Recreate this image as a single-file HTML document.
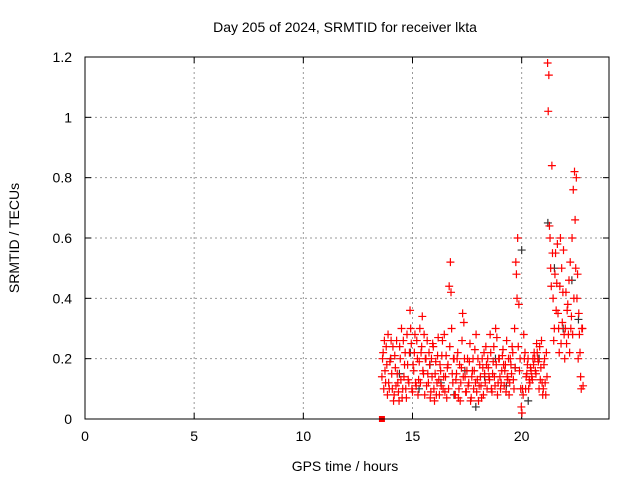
<!DOCTYPE html>
<html><head><meta charset="utf-8"><style>
body{margin:0;background:#fff;font-family:"Liberation Sans",sans-serif;}
svg text{font-family:"Liberation Sans",sans-serif;font-size:14px;fill:#000;}
</style></head><body>
<svg id="chart" width="640" height="480" xmlns="http://www.w3.org/2000/svg">
<rect width="640" height="480" fill="#fff"/>
<text x="345" y="32" text-anchor="middle">Day 205 of 2024, SRMTID for receiver lkta</text>
<text x="345" y="471" text-anchor="middle">GPS time / hours</text>
<text transform="translate(19,238) rotate(-90)" text-anchor="middle">SRMTID / TECUs</text>
<g id="grid"></g><g id="ticks"></g><g id="marks"></g>
<rect x="85" y="57" width="524" height="362" fill="none" stroke="#000" stroke-width="1"/>
</svg>
<script>
const xTicks=[0,5,10,15,20];
const yTicks=[0,0.2,0.4,0.6,0.8,1,1.2];
const yTickLabels=["0","0.2","0.4","0.6","0.8","1","1.2"];
const tStart=13.6, tStep=0.056;
const redA=[0.14,0.22,0.26,0.12,0.18,0.28,0.1,0.2,0.15,0.24,
0.08,0.17,0.26,0.12,0.06,0.2,0.3,0.1,0.14,0.22,
0.07,0.18,0.12,0.36,0.25,0.09,0.16,0.28,0.11,0.2,
0.13,0.3,0.22,0.34,0.15,0.08,0.2,0.26,0.12,0.18,
0.09,0.14,0.24,0.06,0.19,0.12,0.27,0.08,0.16,0.21,
0.1,0.28,0.14,0.07,0.18,0.44,0.52,0.3,0.12,0.2,
0.08,0.15,0.22,0.1,0.06,0.17,0.35,0.32,0.14,0.09,
0.2,0.12,0.25,0.07,0.16,0.1,0.23,0.28,0.13,0.06,
0.18,0.11,0.2,0.08,0.15,0.24,0.1,0.17,0.13,0.22,
0.09,0.19,0.14,0.3,0.27,0.12,0.2,0.1,0.16,0.23,
0.11,0.18,0.26,0.13,0.08,0.2,0.15,0.22,0.1,0.17,
0.48,0.6,0.38,0.2,0.04,0.1,0.28,0.22,0.14,0.18,
0.1,0.12,0.16,0.13,0.18,0.2,0.15,0.22,0.19,0.24,
0.17,0.12,0.1,0.2,0.08,0.14,1.02,0.64,0.5,0.84,
0.4,0.3,0.55,0.45,0.35,0.22,0.6,0.5,0.42,0.28,
0.3,0.25,0.38,0.46,0.52,0.34,0.28,0.4,0.66,0.8,
0.48,0.35,0.22,0.1,0.3];
const redB=[0.2,0.1,0.16,0.24,0.08,0.12,0.19,0.26,0.1,0.06,
0.21,0.11,0.15,0.09,0.24,0.13,0.07,0.26,0.18,0.1,
0.28,0.13,0.22,0.3,0.1,0.18,0.22,0.12,0.26,0.08,
0.19,0.12,0.24,0.16,0.28,0.2,0.11,0.15,0.22,0.07,
0.2,0.25,0.1,0.15,0.08,0.21,0.13,0.18,0.11,0.26,
0.14,0.09,0.21,0.17,0.1,0.24,0.42,0.15,0.2,0.08,
0.13,0.2,0.07,0.18,0.12,0.26,0.14,0.2,0.09,0.16,
0.11,0.19,0.06,0.14,0.2,0.16,0.12,0.09,0.2,0.11,
0.14,0.07,0.17,0.22,0.12,0.18,0.2,0.14,0.28,0.1,
0.15,0.24,0.11,0.18,0.08,0.2,0.14,0.12,0.21,0.18,
0.16,0.09,0.14,0.2,0.12,0.18,0.24,0.13,0.3,0.52,
0.4,0.24,0.16,0.1,0.02,0.08,0.2,0.1,0.15,0.2,
0.13,0.17,0.14,0.2,0.22,0.16,0.25,0.2,0.1,0.13,
0.26,0.08,0.18,0.12,0.22,1.18,1.14,0.6,0.44,0.55,
0.26,0.48,0.36,0.58,0.3,0.44,0.25,0.32,0.56,0.2,
0.42,0.36,0.28,0.22,0.3,0.6,0.76,0.82,0.5,0.4,
0.2,0.28,0.14,0.3,0.11];
const grayT=[14.0,14.4,14.9,15.3,15.8,16.3,16.9,17.4,17.9,18.3,18.8,19.3,19.7,20.0,20.3,20.8,21.2,21.5,21.9,22.3,22.6];
const grayV=[0.2,0.15,0.22,0.1,0.18,0.12,0.08,0.16,0.04,0.14,0.2,0.11,0.17,0.56,0.06,0.2,0.65,0.5,0.3,0.46,0.33];
const xMin=0,xMax=24,yMin=0,yMax=1.2,L=85,R=609,T=57,B=419;
const sx=v=>L+(v-xMin)/(xMax-xMin)*(R-L);
const sy=v=>B-(v-yMin)/(yMax-yMin)*(B-T);
const NS="http://www.w3.org/2000/svg";
const grid=document.getElementById('grid'),ticks=document.getElementById('ticks'),marks=document.getElementById('marks');
function mk(tag,parent,attrs){const e=document.createElementNS(NS,tag);for(const k in attrs)e.setAttribute(k,attrs[k]);parent.appendChild(e);return e;}
xTicks.forEach(v=>{const x=sx(v);
 if(v>0){const g=mk('line',grid,{x1:x,x2:x,y1:T,y2:B,stroke:'#999','stroke-dasharray':'2,3'});
 
 }
 mk('line',ticks,{x1:x,x2:x,y1:B,y2:B-6,stroke:'#000'});mk('line',ticks,{x1:x,x2:x,y1:T,y2:T+6,stroke:'#000'});
 const t=mk('text',ticks,{x:x,y:B+22,'text-anchor':'middle'});t.textContent=v;
 
 });
yTicks.forEach((v,i)=>{const y=sy(v);
 if(v>0&&v<yMax){const g=mk('line',grid,{x1:L,x2:R,y1:y,y2:y,stroke:'#999','stroke-dasharray':'2,3'});
 
 }
 mk('line',ticks,{x1:L,x2:L+6,y1:y,y2:y,stroke:'#000'});mk('line',ticks,{x1:R,x2:R-6,y1:y,y2:y,stroke:'#000'});
 const t=mk('text',ticks,{x:L-13,y:y+5,'text-anchor':'end'});t.textContent=yTickLabels[i];
 
 });
function plus(x,y,col,name){const p=mk('path',marks,{d:`M${x-4} ${y}H${x+4}M${x} ${y-4}V${y+4}`,stroke:col,'stroke-width':1.2});
 
 }
grayT.forEach((t,i)=>plus(sx(t),sy(grayV[i]),'#333','gray-point'));
redA.forEach((v,i)=>plus(sx(tStart+i*tStep),sy(v),'#f00','red-point'));
redB.forEach((v,i)=>plus(sx(tStart+0.028+i*tStep),sy(v),'#f00','red-point'));
const sq=mk('rect',marks,{x:sx(13.6)-3,y:sy(0)-3,width:6,height:6,fill:'#f00'});


</script>
</body></html>
